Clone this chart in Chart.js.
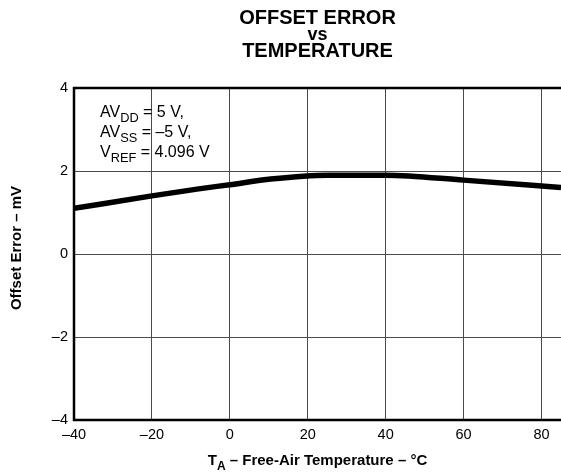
<!DOCTYPE html>
<html>
<head>
<meta charset="utf-8">
<script src="https://cdn.jsdelivr.net/npm/chart.js@4"></script>
<style>
  body { margin: 0; background: #fff; }
  #wrap { width: 561px; height: 474px; }
</style>
</head>
<body>
<div id="wrap"><canvas id="offsetChart" width="561" height="474"></canvas></div>
<script>
// values
const temps = [-40, -20, -8, 0, 10, 25, 40, 60, 85];
const offsetError = [1.1, 1.4, 1.57, 1.67, 1.8, 1.9, 1.9, 1.78, 1.6];
const xTicks = [-40, -20, 0, 20, 40, 60, 80];
const yTicks = [-4, -2, 0, 2, 4];
const titleLines = ["OFFSET ERROR", "vs", "TEMPERATURE"];
const noteLines = [
    [["AV", ""], ["DD", "sub"], [" = 5 V,", ""]],
    [["AV", ""], ["SS", "sub"], [" = \u20135 V,", ""]],
    [["V", ""], ["REF", "sub"], [" = 4.096 V", ""]]
];

const fontFam = "'Liberation Sans', Arial, Helvetica, sans-serif";
const dash = v => v < 0 ? "\u2013" + Math.abs(v) : String(v);

function drawRich(ctx, parts, x, y, size, bold) {
    let cx = x;
    parts.forEach(([txt, kind]) => {
        const s = kind === "sub" ? size * 0.8 : size;
        ctx.font = (bold ? "bold " : "") + s + "px " + fontFam;
        ctx.fillText(txt, cx, kind === "sub" ? y + size * 0.3 : y);
        cx += ctx.measureText(txt).width;
    });
    return cx - x;
}

const decor = {
    id: "decor",
    afterDraw(chart) {
        const { ctx, chartArea: a } = chart;
        ctx.save();
        // frame
        ctx.strokeStyle = "#000";
        ctx.lineWidth = 2.5;
        ctx.beginPath();
        ctx.moveTo(a.right + 2, a.top);
        ctx.lineTo(a.left, a.top);
        ctx.lineTo(a.left, a.bottom);
        ctx.lineTo(a.right + 2, a.bottom);
        ctx.stroke();

        ctx.fillStyle = "#000";
        ctx.textBaseline = "alphabetic";
        // title
        ctx.textAlign = "center";
        const cx = (a.left + a.right) / 2;
        ctx.font = "bold 20px " + fontFam;
        ctx.fillText(titleLines[0], cx, 24);
        ctx.font = "bold 18px " + fontFam;
        ctx.fillText(titleLines[1], cx, 40);
        ctx.font = "bold 20px " + fontFam;
        ctx.fillText(titleLines[2], cx, 57);

        // conditions note
        ctx.textAlign = "left";
        noteLines.forEach((ln, i) => drawRich(ctx, ln, 100, 117 + i * 20, 16, false));

        // x axis title
        const xParts = [["T", ""], ["A", "sub"], [" \u2013 Free-Air Temperature \u2013 \u00B0C", ""]];
        const tmp = document.createElement("canvas").getContext("2d");
        const w = drawRich(tmp, xParts, 0, 0, 15, true);
        drawRich(ctx, xParts, cx - w / 2, 465, 15, true);

        // y axis title
        ctx.translate(21, (a.top + a.bottom) / 2 - 6);
        ctx.rotate(-Math.PI / 2);
        ctx.textAlign = "center";
        ctx.font = "bold 15px " + fontFam;
        ctx.fillText("Offset Error \u2013 mV", 0, 0);
        ctx.restore();
    }
};

new Chart(document.getElementById("offsetChart"), {
    type: "line",
    data: {
        labels: temps,
        datasets: [{
            data: temps.map((t, i) => ({ x: t, y: offsetError[i] })),
            borderColor: "#000",
            borderWidth: 5.5,
            pointRadius: 0,
            cubicInterpolationMode: "monotone",
            fill: false
        }]
    },
    options: {
        responsive: false,
        animation: false,
        layout: { padding: { top: 88, right: 0, left: 0, bottom: 0 } },
        plugins: { legend: { display: false }, tooltip: { enabled: false } },
        scales: {
            x: {
                type: "linear",
                min: -40, max: 85,
                afterFit: s => { s.height = 54; },
                afterBuildTicks: s => { s.ticks = xTicks.map(v => ({ value: v })); },
                grid: { color: "#4a4a4a", lineWidth: 1, drawTicks: false },
                border: { display: false },
                ticks: {
                    color: "#000", padding: 6,
                    font: { family: fontFam, size: 14.5 },
                    callback: v => dash(v)
                }
            },
            y: {
                min: -4, max: 4,
                afterFit: s => { s.width = 74; },
                afterBuildTicks: s => { s.ticks = yTicks.map(v => ({ value: v })); },
                grid: { color: "#4a4a4a", lineWidth: 1, drawTicks: false },
                border: { display: false },
                ticks: {
                    color: "#000", padding: 6,
                    font: { family: fontFam, size: 14.5 },
                    callback: v => dash(v)
                }
            }
        }
    },
    plugins: [decor]
});
</script>
</body>
</html>
